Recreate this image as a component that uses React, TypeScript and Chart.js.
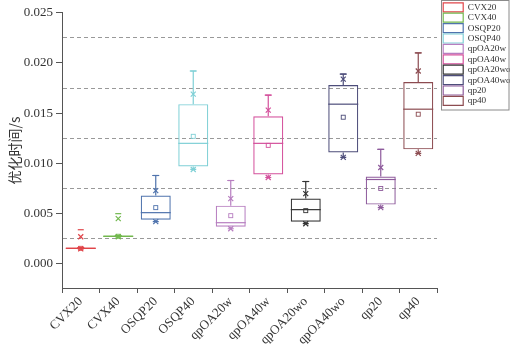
import React, { useEffect, useRef } from 'react';
import { Chart, registerables } from 'chart.js';

Chart.register(...registerables);

const categories = ['CVX20', 'CVX40', 'OSQP20', 'OSQP40', 'qpOA20w', 'qpOA40w', 'qpOA20wo', 'qpOA40wo', 'qp20', 'qp40'];
const colors = ['#e0454a', '#72b84e', '#4f73ad', '#7fd0d6', '#b77ec0', '#d4509c', '#333333', '#4d4d7a', '#8e5b9c', '#8c4b50'];

const q1 = [0.00148, 0.00268, 0.0044, 0.0097, 0.0037, 0.0089, 0.0042, 0.0111, 0.0059, 0.0114];
const q3 = [0.00162, 0.00282, 0.0068, 0.0159, 0.0058, 0.0147, 0.0065, 0.0178, 0.0087, 0.0181];
const medians = [0.00155, 0.00275, 0.0051, 0.012, 0.0041, 0.012, 0.0054, 0.0159, 0.0084, 0.0154];
const means = [0.00155, 0.00275, 0.0056, 0.0127, 0.0048, 0.0118, 0.0053, 0.0146, 0.0075, 0.0149];
const whiskerHi = [0.00162, 0.00282, 0.0088, 0.0192, 0.0083, 0.0168, 0.0082, 0.0189, 0.0114, 0.021];
const minVals = [0.0015, 0.0027, 0.0042, 0.0094, 0.0035, 0.0086, 0.004, 0.0106, 0.0056, 0.011];
const p99 = [0.0027, 0.0045, 0.0073, 0.0169, 0.0065, 0.0153, 0.007, 0.0184, 0.0096, 0.0192];
const maxVals = [0.0034, 0.005, 0.0088, 0.0192, 0.0083, 0.0168, 0.0082, 0.0189, 0.0114, 0.021];

const yTickValues = [0, 0.0025, 0.005, 0.0075, 0.01, 0.0125, 0.015, 0.0175, 0.02, 0.0225, 0.025];

const isMajor = (v: number) => Math.abs(Math.round(v / 0.005) * 0.005 - v) < 1e-9;

const boxExtras = {
  id: 'boxExtras',
  afterDatasetsDraw(chart: any) {
    const ctx = chart.ctx;
    const xs = chart.scales.x;
    const ys = chart.scales.y;
    ctx.save();
    categories.forEach((_, i) => {
      const meta = chart.getDatasetMeta(i);
      const bar = meta.data[i];
      if (!bar) return;
      const cx = xs.getPixelForValue(i);
      const hw = bar.width / 2;
      const c = colors[i];
      ctx.strokeStyle = c;
      ctx.lineWidth = 1.2;
      const ym = ys.getPixelForValue(medians[i]);
      ctx.beginPath();
      ctx.moveTo(cx - hw, ym);
      ctx.lineTo(cx + hw, ym);
      ctx.stroke();
      const yq3 = ys.getPixelForValue(q3[i]);
      const yw = ys.getPixelForValue(whiskerHi[i]);
      ctx.beginPath();
      ctx.moveTo(cx, yq3);
      ctx.lineTo(cx, yw);
      ctx.moveTo(cx - 3.5, yw);
      ctx.lineTo(cx + 3.5, yw);
      ctx.stroke();
      const yq1 = ys.getPixelForValue(q1[i]);
      const ymin = ys.getPixelForValue(minVals[i]);
      ctx.beginPath();
      ctx.moveTo(cx, yq1);
      ctx.lineTo(cx, ymin);
      ctx.moveTo(cx - 3, ymin);
      ctx.lineTo(cx + 3, ymin);
      ctx.stroke();
      const ymax = ys.getPixelForValue(maxVals[i]);
      ctx.beginPath();
      ctx.moveTo(cx - 3, ymax);
      ctx.lineTo(cx + 3, ymax);
      ctx.stroke();
      const cross = (y: number) => {
        ctx.beginPath();
        ctx.moveTo(cx - 2.5, y - 2.5);
        ctx.lineTo(cx + 2.5, y + 2.5);
        ctx.moveTo(cx + 2.5, y - 2.5);
        ctx.lineTo(cx - 2.5, y + 2.5);
        ctx.stroke();
      };
      cross(ys.getPixelForValue(p99[i]));
      cross(ymin);
      const ymean = ys.getPixelForValue(means[i]);
      ctx.lineWidth = 0.9;
      ctx.strokeRect(cx - 2, ymean - 2, 4, 4);
    });
    ctx.restore();
  },
};

const legendShift = {
  id: 'legendShift',
  afterLayout(chart: any) {
    const lg = chart.legend;
    if (!lg) return;
    lg.left += 5;
    lg.right += 5;
    lg.top += 1.5;
  },
};

const legendFrame = {
  id: 'legendFrame',
  afterDraw(chart: any) {
    const lg = chart.legend;
    if (!lg || !lg.legendHitBoxes || !lg.legendHitBoxes.length) return;
    const hb = lg.legendHitBoxes;
    const last = hb[hb.length - 1];
    const ctx = chart.ctx;
    ctx.save();
    ctx.strokeStyle = '#8a8a8a';
    ctx.lineWidth = 1;
    const left = Math.round(lg.left) - 0.5;
    ctx.strokeRect(left, 0.5, chart.width - 1 - left, last.top + last.height + 4);
    ctx.restore();
  },
};

export default function App() {
  const ref = useRef<HTMLCanvasElement>(null);
  useEffect(() => {
    document.body.style.margin = '0';
    const canvas = ref.current;
    if (!canvas) return;
    const datasets = categories.map((name, i) => ({
      type: 'bar' as const,
      label: name,
      data: categories.map((_, j) => (j === i ? [q1[i], q3[i]] : null)),
      borderColor: colors[i],
      backgroundColor: 'rgba(255,255,255,0)',
      borderWidth: 1.2,
      borderSkipped: false,
      grouped: false,
      barPercentage: 0.8,
      categoryPercentage: 1,
    }));
    const chart = new Chart(canvas, {
      type: 'bar',
      data: { labels: categories, datasets: datasets as any },
      options: {
        responsive: false,
        animation: false,
        layout: { padding: { top: 0, left: 0, right: 0, bottom: 0 } },
        plugins: {
          tooltip: { enabled: false },
          legend: {
            position: 'right',
            align: 'start',
            maxWidth: 73,
            labels: {
              boxWidth: 20,
              boxHeight: 9,
              padding: 1.2,
              color: '#333',
              font: { family: '"Liberation Serif", serif', size: 9.2 },
            },
          },
        },
        scales: {
          x: {
            type: 'category',
            offset: true,
            afterFit: (s: any) => { s.height = 62; },
            grid: { display: true, drawOnChartArea: false, tickLength: 5, color: '#555' },
            border: { color: '#555', width: 1 },
            ticks: {
              autoSkip: false,
              minRotation: 45,
              maxRotation: 45,
              color: '#333',
              padding: 1,
              font: { family: '"Liberation Serif", serif', size: 13 },
            },
          },
          y: {
            min: -0.0024,
            max: 0.025,
            afterFit: (s: any) => { s.width = 62; },
            afterBuildTicks: (s: any) => { s.ticks = yTickValues.map((v) => ({ value: v })); },
            title: {
              display: true,
              text: '优化时间/s',
              color: '#333',
              padding: { top: 6, bottom: 0 },
              font: { family: '"Noto Sans CJK SC", sans-serif', size: 14 },
            },
            border: { color: '#555', width: 1, dash: [4, 3] },
            grid: {
              color: (c: any) => (c.tick && !isMajor(c.tick.value) ? '#999' : 'rgba(0,0,0,0)'),
              tickColor: (c: any) => (c.tick && isMajor(c.tick.value) ? '#555' : 'rgba(0,0,0,0)'),
              tickLength: 6,
              lineWidth: 1,
              tickBorderDash: [],
            } as any,
            ticks: {
              color: '#333',
              padding: 3,
              font: { family: '"Liberation Serif", serif', size: 13, lineHeight: 1.5 },
              callback: (v: any) => (isMajor(Number(v)) ? Number(v).toFixed(3) : ''),
            },
          },
        },
      },
      plugins: [legendShift, boxExtras, legendFrame],
    });
    return () => chart.destroy();
  }, []);
  return (
    <div style={{ width: 510, height: 350 }}>
      <canvas ref={ref} width={510} height={350} />
    </div>
  );
}
